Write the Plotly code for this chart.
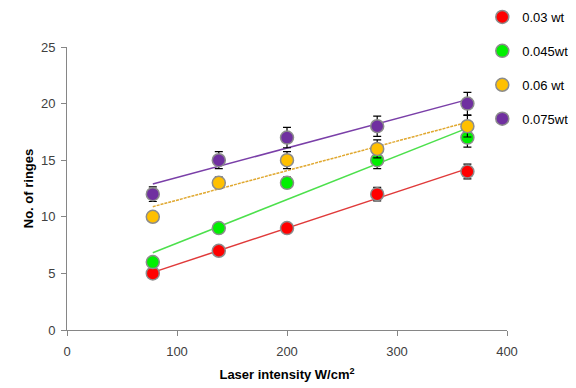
import numpy as np
import plotly.graph_objects as go

intensity = [78, 138, 200, 282, 364]
series_names = ["0.03 wt", "0.045wt", "0.06 wt", "0.075wt"]
rings_003 = [5, 7, 9, 12, 14]
rings_0045 = [6, 9, 13, 15, 17]
rings_006 = [10, 13, 15, 16, 18]
rings_0075 = [12, 15, 17, 18, 20]
err_003 = [0.3, 0.3, 0.3, 0.6, 0.65]
err_0045 = [0.3, 0.3, 0.5, 0.75, 0.85]
err_006 = [0.3, 0.5, 0.75, 0.8, 0.95]
err_0075 = [0.65, 0.75, 0.9, 0.9, 1.0]

marker_colors = ["#FF0000", "#00F000", "#FFC000", "#7030A0"]
line_colors = ["#E03A3A", "#4CE04C", "#E0A830", "#7A3FA8"]
line_dash = ["solid", "solid", "3px,1px", "solid"]

values = [rings_003, rings_0045, rings_006, rings_0075]
errors = [err_003, err_0045, err_006, err_0075]

fig = go.Figure()
x = np.array(intensity, dtype=float)
for i, y in enumerate(values):
    slope, icpt = np.polyfit(x, np.array(y, dtype=float), 1)
    xs = [x.min(), x.max()]
    fig.add_trace(go.Scatter(
        x=xs, y=[slope * v + icpt for v in xs], mode="lines",
        line=dict(color=line_colors[i], width=1.5, dash=line_dash[i]),
        showlegend=False, hoverinfo="skip"))
for i, y in enumerate(values):
    fig.add_trace(go.Scatter(
        x=intensity, y=y, mode="markers", name=series_names[i],
        legendgroup=series_names[i],
        marker=dict(color=marker_colors[i], size=13, line=dict(color="#8C8C8C", width=1.5)),
        error_y=dict(type="data", array=errors[i], color="#000000", thickness=1.2, width=4),
    ))

# page body has an 8px margin, so the figure is sized to fit the 576x388 window
fig.update_layout(
    width=568, height=380,
    margin=dict(l=59, r=69, t=39, b=58, autoexpand=False),
    paper_bgcolor="white", plot_bgcolor="white",
    font=dict(family="Liberation Sans, Arial, sans-serif", color="#404040", size=12),
    showlegend=True,
    legend=dict(xref="container", yref="paper", x=0.835, xanchor="left",
                y=1.159, yanchor="top",
                font=dict(size=13, color="#000000"), tracegroupgap=14,
                itemwidth=30, bgcolor="rgba(0,0,0,0)", traceorder="grouped"),
)
fig.update_xaxes(range=[0, 400], tickvals=[0, 100, 200, 300, 400], showgrid=False,
                 showline=True, linecolor="#868686", linewidth=1, ticks="outside",
                 ticklen=5, tickcolor="#868686", zeroline=False, automargin=False,
                 tickfont=dict(size=13), ticklabelstandoff=4,
                 title=dict(text="<b>Laser intensity W/cm<sup>2</sup></b>",
                            font=dict(size=13, color="#000000"), standoff=12))
fig.update_yaxes(range=[0, 25], tickvals=[0, 5, 10, 15, 20, 25], showgrid=False,
                 showline=True, linecolor="#868686", linewidth=1, ticks="outside",
                 ticklen=5, tickcolor="#868686", zeroline=False, automargin=False,
                 tickfont=dict(size=13), ticklabelstandoff=3,
                 title=dict(text="<b>No. of ringes</b>", font=dict(size=13, color="#000000"),
                            standoff=4))
fig.write_html("out.html")
